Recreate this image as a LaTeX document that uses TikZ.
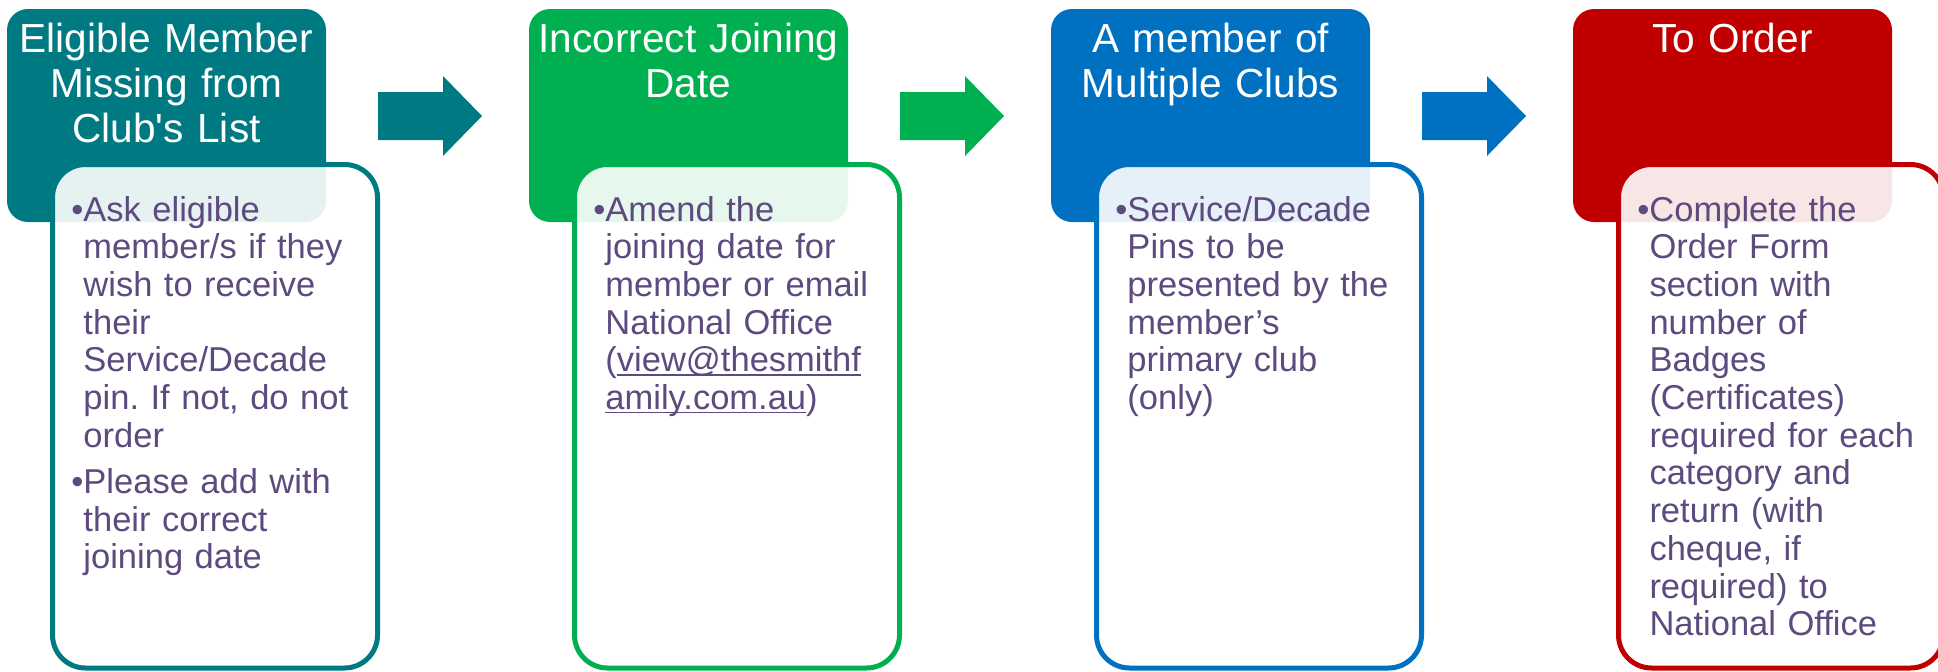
\documentclass[tikz,border=0pt]{standalone}
\usepackage{fontspec}
\setmainfont{Liberation Sans}
\frenchspacing
\definecolor{cteal}{HTML}{007A82}
\definecolor{cgreen}{HTML}{00B050}
\definecolor{cblue}{HTML}{0070C0}
\definecolor{cred}{HTML}{C00000}
\definecolor{ctext}{HTML}{5D4A7E}
\tikzset{
  headbox/.style={rounded corners=10.5pt, minimum width=159.5pt, minimum height=106.5pt, inner sep=0pt},
  bodybox/.style={draw, line width=2.5pt, fill=white, fill opacity=0.9, rounded corners=16.5pt,
    minimum width=162.5pt, minimum height=251.75pt, inner sep=0pt},
  headtext/.style={text=white, align=center, text width=159.5pt, inner sep=0pt, anchor=base,
    font=\fontsize{20.3}{22.5}\selectfont},
  bodytext/.style={text=ctext, align=left, text width=150pt, inner sep=0pt, anchor=base west,
    font=\fontsize{17.25}{18.85}\selectfont}
}
\newlength\bulw
\newcommand\itm{\settowidth\bulw{\textbullet}\hangindent=\bulw\relax\hangafter=1\relax\textbullet}
\newcommand\nextitm{\par\vspace{4.25pt}\itm}
\newcommand\ulink[1]{\setbox0\hbox{#1}\rlap{\rule[-1.9pt]{\wd0}{0.8pt}}\box0}

\begin{document}
\begin{tikzpicture}[x=0.5pt,y=-0.5pt]
\useasboundingbox (0,0) rectangle (1938,671);
% arrows between the steps
\foreach \i/\c in {0/cteal,1/cgreen,2/cblue}
  \fill[\c] ({378+522*\i},92) -- ++(65,0) -- ++(0,-16) -- ({482+522*\i},116)
    -- ({443+522*\i},156) -- ++(0,-16) -- ++(-65,0) -- cycle;
% heads
\node[headbox, fill=cteal] (h1) at (166.5,115.5) {};
\node[headbox, fill=cgreen] (h2) at (688.5,115.5) {};
\node[headbox, fill=cblue] (h3) at (1210.5,115.5) {};
\node[headbox, fill=cred] (h4) at (1732.5,115.5) {};
\node[headtext] (t1) at (166.5,52) {Eligible Member\\Missing from\\Club\textquotesingle s List};
\node[headtext] (t2) at (688.5,52) {Incorrect Joining\\Date};
\node[headtext] (t3) at (1210.5,52) {A member of\\Multiple Clubs};
\node[headtext] (t4) at (1732.5,52) {To Order};
% bodies
\node[bodybox, draw=cteal] (b1) at (215,416.25) {};
\node[bodybox, draw=cgreen] (b2) at (737,416.25) {};
\node[bodybox, draw=cblue] (b3) at (1259,416.25) {};
\node[bodybox, draw=cred] (b4) at (1781,416.25) {};
\node[bodytext] (x1) at (71,221) {\itm Ask eligible\newline member/s if they\newline wish to receive\newline their\newline
  Service/Decade\newline pin. If not, do not\newline order
  \nextitm Please add with\newline their correct\newline joining date\par};
\node[bodytext] (x2) at (593,221) {\itm Amend the\newline joining date for\newline member or email\newline
  National Office\newline (\ulink{view@thesmithf}\newline \ulink{amily.com.au})\par};
\node[bodytext] (x3) at (1115,221) {\itm Service/Decade\newline Pins to be\newline presented by the\newline
  member’s\newline primary club\newline (only)\par};
\node[bodytext] (x4) at (1637,221) {\itm Complete the\newline Order Form\newline section with\newline number of\newline
  Badges\newline (Certificates)\newline required for each\newline category and\newline return (with\newline
  cheque, if\newline required) to\newline National Office\par};
\end{tikzpicture}
\end{document}
